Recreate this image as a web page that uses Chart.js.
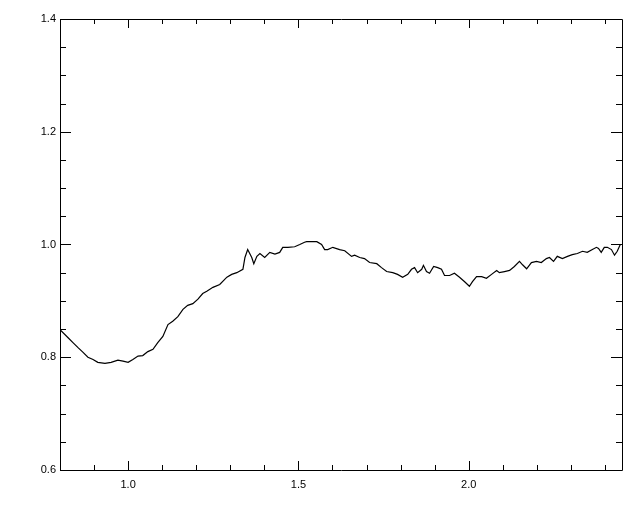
<!DOCTYPE html>
<html lang="en">
<head>
  <meta charset="UTF-8" />
  <title>Spectrum</title>
  <script src="https://cdn.jsdelivr.net/npm/chart.js"></script>
  <style>
    * { margin: 0; padding: 0; }
    html, body { background: #fff; width: 640px; height: 512px; overflow: hidden; }
    .wrap { position: relative; width: 640px; height: 512px; }
  </style>
</head>
<body>
  <div class="wrap"><canvas id="plot"></canvas></div>

  <script>
    // curve
    const xValues = [
      0.800, 0.823, 0.838, 0.853, 0.867, 0.882, 0.897, 0.911, 0.932, 0.950,
      0.970, 0.985, 1.000, 1.014, 1.029, 1.043, 1.058, 1.073, 1.087, 1.102,
      1.117, 1.131, 1.146, 1.161, 1.175, 1.190, 1.205, 1.219, 1.231, 1.249,
      1.269, 1.290, 1.304, 1.319, 1.337, 1.343, 1.351, 1.363, 1.369, 1.378,
      1.387, 1.401, 1.416, 1.431, 1.445, 1.454, 1.469, 1.489, 1.504, 1.518,
      1.524, 1.554, 1.568, 1.577, 1.586, 1.601, 1.621, 1.636, 1.656, 1.665,
      1.680, 1.694, 1.709, 1.730, 1.744, 1.759, 1.777, 1.791, 1.806, 1.821,
      1.832, 1.841, 1.850, 1.862, 1.867, 1.876, 1.885, 1.897, 1.909, 1.920,
      1.929, 1.944, 1.958, 1.973, 1.988, 2.002, 2.011, 2.023, 2.038, 2.052,
      2.067, 2.082, 2.090, 2.105, 2.120, 2.134, 2.149, 2.158, 2.170, 2.184,
      2.199, 2.213, 2.228, 2.237, 2.249, 2.260, 2.275, 2.290, 2.304, 2.319,
      2.334, 2.348, 2.363, 2.375, 2.381, 2.389, 2.398, 2.407, 2.419, 2.428,
      2.436, 2.445
    ];
    const yValues = [
      0.849, 0.835, 0.826, 0.817, 0.809, 0.800, 0.796, 0.791, 0.789, 0.791,
      0.795, 0.793, 0.791, 0.796, 0.802, 0.803, 0.810, 0.814, 0.826, 0.837,
      0.858, 0.864, 0.872, 0.885, 0.892, 0.895, 0.903, 0.913, 0.917, 0.924,
      0.929, 0.942, 0.947, 0.950, 0.956, 0.977, 0.991, 0.977, 0.966, 0.979,
      0.984, 0.977, 0.986, 0.983, 0.986, 0.995, 0.995, 0.996, 1.000, 1.004,
      1.005, 1.005, 1.000, 0.991, 0.991, 0.995, 0.991, 0.989, 0.979, 0.981,
      0.977, 0.975, 0.968, 0.966, 0.959, 0.952, 0.950, 0.947, 0.942, 0.947,
      0.956, 0.959, 0.950, 0.956, 0.963, 0.952, 0.949, 0.961, 0.959, 0.956,
      0.945, 0.945, 0.949, 0.942, 0.934, 0.926, 0.934, 0.943, 0.943, 0.940,
      0.947, 0.954, 0.950, 0.952, 0.954, 0.961, 0.970, 0.964, 0.957, 0.968,
      0.970, 0.968, 0.975, 0.977, 0.970, 0.979, 0.975, 0.979, 0.982, 0.984,
      0.988, 0.986, 0.991, 0.995, 0.993, 0.986, 0.995, 0.995, 0.991, 0.981,
      0.988, 1.000
    ];

    // axis ranges and ticks
    const xRange = [0.8, 2.45];
    const yRange = [0.6, 1.4];
    const xMajorTicks = [1.0, 1.5, 2.0];
    const xMinorTicks = [0.9, 1.1, 1.2, 1.3, 1.4, 1.6, 1.7, 1.8, 1.9, 2.1, 2.2, 2.3, 2.4];
    const yMajorTicks = [0.6, 0.8, 1.0, 1.2, 1.4];
    const yMinorTicks = [0.65, 0.7, 0.75, 0.85, 0.9, 0.95, 1.05, 1.1, 1.15, 1.25, 1.3, 1.35];

    const points = xValues.map((x, i) => ({ x: x, y: yValues[i] }));

    const isMajor = (v, list) => list.some(m => Math.abs(m - v) < 1e-6);

    // IDL style frame with inward ticks on all four sides
    const framePlugin = {
      id: 'frame',
      afterDraw(chart) {
        const { ctx, chartArea: a, scales } = chart;
        ctx.save();
        ctx.strokeStyle = '#000';
        ctx.lineWidth = 1;
        ctx.beginPath();
        ctx.rect(Math.round(a.left) + 0.5, Math.round(a.top) + 0.5,
                 Math.round(a.right - a.left), Math.round(a.bottom - a.top));
        ctx.stroke();

        ctx.beginPath();
        const xt = (v, len) => {
          const px = Math.round(scales.x.getPixelForValue(v)) + 0.5;
          ctx.moveTo(px, a.bottom); ctx.lineTo(px, a.bottom - len);
          ctx.moveTo(px, a.top); ctx.lineTo(px, a.top + len);
        };
        const yt = (v, len) => {
          const py = Math.round(scales.y.getPixelForValue(v)) + 0.5;
          ctx.moveTo(a.left, py); ctx.lineTo(a.left + len, py);
          ctx.moveTo(a.right, py); ctx.lineTo(a.right - len, py);
        };
        xMajorTicks.forEach(v => xt(v, 9));
        xMinorTicks.forEach(v => xt(v, 5));
        yMajorTicks.forEach(v => yt(v, 11));
        yMinorTicks.forEach(v => yt(v, 6));
        ctx.stroke();
        ctx.restore();
      }
    };

    new Chart(document.getElementById('plot'), {
      type: 'line',
      data: {
        datasets: [{
          data: points,
          borderColor: '#000',
          borderWidth: 1.2,
          pointRadius: 0,
          tension: 0,
          fill: false
        }]
      },
      options: {
        responsive: true,
        maintainAspectRatio: false,
        animation: false,
        layout: { padding: { left: 0, top: 19, right: 18, bottom: 0 } },
        plugins: { legend: { display: false }, tooltip: { enabled: false } },
        scales: {
          x: {
            type: 'linear',
            min: xRange[0], max: xRange[1],
            grid: { display: false, drawTicks: false },
            border: { display: false },
            afterFit: s => { s.height = 42; },
            afterBuildTicks: s => { s.ticks = xMajorTicks.map(v => ({ value: v })); },
            ticks: {
              autoSkip: false, maxRotation: 0, padding: 8,
              color: '#000',
              font: { family: 'Liberation Sans', size: 11 },
              callback: v => v.toFixed(1)
            }
          },
          y: {
            min: yRange[0], max: yRange[1],
            grid: { display: false, drawTicks: false },
            border: { display: false },
            afterFit: s => { s.width = 60; },
            afterBuildTicks: s => { s.ticks = yMajorTicks.map(v => ({ value: v })); },
            ticks: {
              autoSkip: false, padding: 4,
              color: '#000',
              font: { family: 'Liberation Sans', size: 11 },
              callback: v => v.toFixed(1)
            }
          }
        }
      },
      plugins: [framePlugin]
    });
  </script>
</body>
</html>
